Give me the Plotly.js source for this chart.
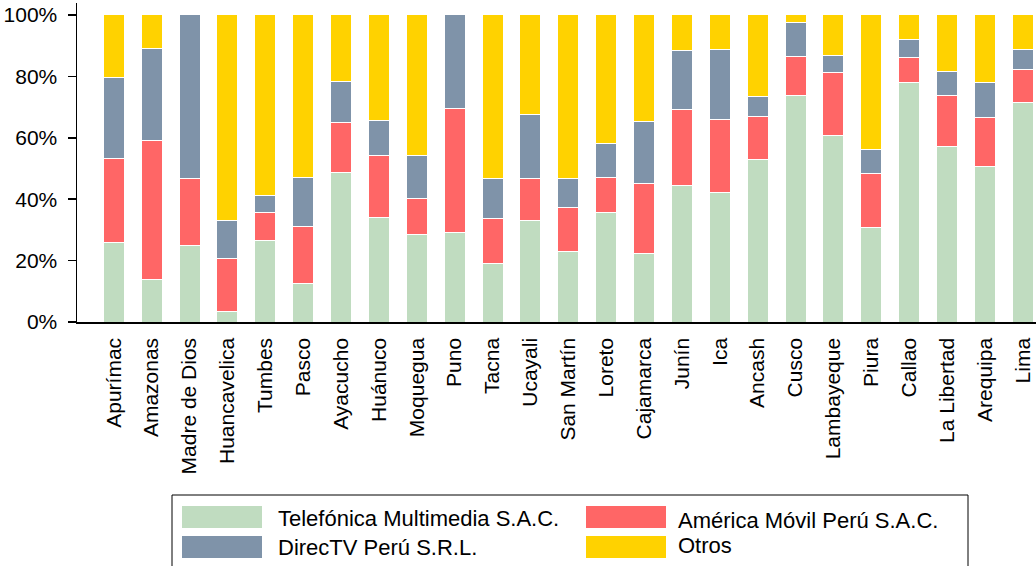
<!DOCTYPE html>
<html>
<head>
<meta charset="utf-8">
<script src="https://cdn.plot.ly/plotly-3.0.1.min.js"></script>
<style>body{margin:0;padding:0;background:#fff}#chart{width:1036px;height:566px}</style>
</head>
<body>
<div id="chart"></div>
<script>
const regions = ["Apurímac","Amazonas","Madre de Dios","Huancavelica","Tumbes","Pasco","Ayacucho","Huánuco","Moquegua","Puno","Tacna","Ucayali","San Martín","Loreto","Cajamarca","Junín","Ica","Ancash","Cusco","Lambayeque","Piura","Callao","La Libertad","Arequipa","Lima"];
const seriesNames = ["Telefónica Multimedia S.A.C.","América Móvil Perú S.A.C.","DirecTV Perú S.R.L.","Otros"];
const telefonica = [25.8,13.7,24.8,3.3,26.6,12.7,48.8,34.1,28.6,29.3,19.1,33.2,23.0,35.8,22.4,44.4,42.3,52.8,73.9,60.6,30.9,77.9,57.3,50.6,71.4];
const americaMovil = [27.4,45.4,21.9,17.5,9.2,18.3,16.3,20.2,11.6,40.1,14.7,13.7,14.4,11.4,22.6,24.7,23.6,14.1,12.6,20.6,17.6,8.1,16.4,16.0,10.7];
const directv = [26.3,30.0,53.3,12.4,5.3,16.2,13.1,11.2,14.0,30.6,12.9,20.7,9.2,10.8,20.4,19.3,22.9,6.7,11.1,5.6,7.6,5.9,7.8,11.3,6.8];
const otros = [20.5,10.9,0,66.8,58.9,52.8,21.8,34.5,45.8,0,53.3,32.4,53.4,42.0,34.6,11.6,11.2,26.4,2.4,13.2,43.9,8.1,18.5,22.1,11.1];
const tickVals = [0,20,40,60,80,100];
const tickText = ["0%","20%","40%","60%","80%","100%"];

const colors = ["#C0DCC0","#FF6666","#7F93A9","#FFD200"];
const values = [telefonica, americaMovil, directv, otros];

const traces = values.map((v,i)=>({
  type:'bar', x:regions, y:v, name:seriesNames[i],
  marker:{color:colors[i], line:{color:'#ffffff', width:1}},
  showlegend:false, hoverinfo:'x+y+name'
}));

// pixel -> paper helpers (plot area: x 77..1036, y 3..322)
const L=77, R=1036, T=3, B=322;
const px = x => (x-L)/(R-L);
const py = y => (B-y)/(B-T);

const font = {family:'"Liberation Sans", Arial, sans-serif', color:'#000', size:21};
const legFont = {family:'"Liberation Sans", Arial, sans-serif', color:'#000', size:22};

// custom legend (box + swatches + labels)
const shapes = [
  {type:'rect', xref:'paper', yref:'paper', x0:px(172), x1:px(968), y0:py(495), y1:py(575), line:{color:'#000', width:1}, fillcolor:'rgba(0,0,0,0)'}
];
const legendPos = [
  {sx:182, sy:506, tx:276, ty:518}, // Telefónica
  {sx:586, sy:506, tx:676, ty:520}, // América Móvil
  {sx:182, sy:536, tx:276, ty:547}, // DirecTV
  {sx:586, sy:536, tx:676, ty:545}  // Otros
];
const annotations = [];
legendPos.forEach((p,i)=>{
  shapes.push({type:'rect', xref:'paper', yref:'paper', x0:px(p.sx), x1:px(p.sx+80), y0:py(p.sy), y1:py(p.sy+22), line:{width:0}, fillcolor:colors[i]});
  annotations.push({xref:'paper', yref:'paper', x:px(p.tx), y:py(p.ty), text:seriesNames[i], showarrow:false, xanchor:'left', yanchor:'middle', font:legFont});
});

const layout = {
  width:1036, height:566,
  margin:{l:L, r:1036-R, t:T, b:566-B, pad:0},
  barmode:'stack', bargap:0.445,
  paper_bgcolor:'#fff', plot_bgcolor:'#fff',
  font:font,
  xaxis:{type:'category', range:[-0.972,24.35], tickangle:-90, showline:true, linecolor:'#000', linewidth:1.5, ticks:'', showgrid:false, zeroline:false, tickfont:font, automargin:false, ticklabelstandoff:6},
  yaxis:{range:[0,103.9], tickvals:tickVals, ticktext:tickText, showline:true, linecolor:'#000', linewidth:1.5, ticks:'outside', ticklen:8, tickwidth:1.5, tickcolor:'#000', showgrid:false, zeroline:false, tickfont:font, automargin:false, ticklabelstandoff:6},
  shapes:shapes, annotations:annotations, showlegend:false
};

Plotly.newPlot('chart', traces, layout, {displayModeBar:false, staticPlot:true});
</script>
</body>
</html>
